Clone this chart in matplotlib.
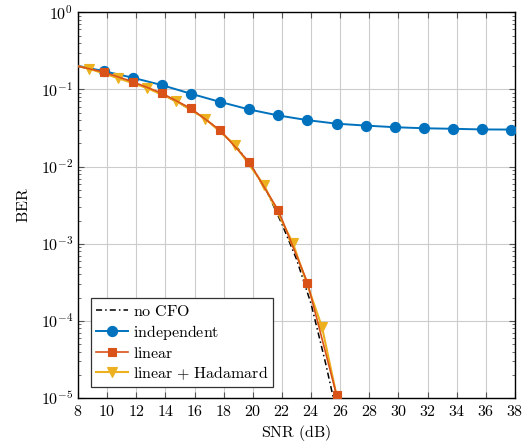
import math
import matplotlib
matplotlib.use("Agg")
import matplotlib.pyplot as plt
from matplotlib.ticker import FixedLocator, FuncFormatter, LogLocator, NullFormatter

plt.rcParams['mathtext.fontset'] = 'cm'
plt.rcParams['font.family'] = 'serif'

# ---------------- data ----------------
snr_nocfo = [8, 9, 10, 11, 12, 13, 14, 15, 16, 17, 18, 19, 20, 21, 22, 23, 24, 25, 26]
ber_nocfo = [0.2, 0.182, 0.162, 0.14, 0.119, 0.1, 0.082, 0.066, 0.051, 0.038, 0.026,
             0.017, 0.0095, 0.0046, 0.0018, 6.3e-4, 1.66e-4, 2.8e-5, 4e-6]

snr_indep = [7.75, 9.75, 11.75, 13.75, 15.75, 17.75, 19.75, 21.75, 23.75, 25.75,
             27.75, 29.75, 31.75, 33.75, 35.75, 37.75]
ber_indep = [0.207, 0.173, 0.142, 0.114, 0.088, 0.069, 0.055, 0.046, 0.040, 0.036,
             0.034, 0.0324, 0.0314, 0.0309, 0.0303, 0.0302]

snr_lin = [7.75, 9.75, 11.75, 13.75, 15.75, 17.75, 19.75, 21.75, 23.75, 25.75]
ber_lin = [0.205, 0.168, 0.126, 0.0895, 0.0567, 0.0296, 0.0114, 0.0027, 3.14e-4, 1.09e-5]

snr_had = [7.75, 8.75, 10.75, 12.75, 14.75, 16.75, 18.75, 20.75, 22.75, 24.75, 26.75]
ber_had = [0.205, 0.186, 0.140, 0.104, 0.0705, 0.0416, 0.0193, 0.0058, 1.02e-3, 8.3e-5, 1.4e-6]

labels = [r'$\mathrm{no\ CFO}$', r'$\mathrm{independent}$', r'$\mathrm{linear}$',
          r'$\mathrm{linear\ {+}\ Hadamard}$']
xticks = list(range(8, 39, 2))

c_blue = '#0072BD'
c_orange = '#D95319'
c_yellow = '#EDB120'

# ---------------- figure ----------------
fig = plt.figure(figsize=(5.25, 4.43), dpi=100)
ax = fig.add_axes([0.1486, 0.1016, 0.8324, 0.8706])

ax.plot(snr_nocfo, ber_nocfo, color='black', lw=1.1, linestyle=(0, (4, 2, 1, 2)),
        label=labels[0], zorder=3)
ax.plot(snr_indep, ber_indep, color=c_blue, lw=1.4, marker='o', ms=7.3, mew=0.8,
        markevery=list(range(1, len(snr_indep))), label=labels[1], zorder=4)
ax.plot(snr_had, ber_had, color=c_yellow, lw=1.5, marker='v', ms=7.5, mew=0.8,
        markevery=list(range(1, len(snr_had) - 1)), label=labels[3], zorder=4)
ax.plot(snr_lin, ber_lin, color=c_orange, lw=1.2, marker='s', ms=6.2, mew=0.8,
        markevery=list(range(1, len(snr_lin))), label=labels[2], zorder=5)

ax.set_yscale('log')
ax.set_xlim(8, 38)
ax.set_ylim(1e-5, 1)

ax.xaxis.set_major_locator(FixedLocator(xticks))
ax.xaxis.set_major_formatter(FuncFormatter(lambda v, p: r'$%d$' % int(round(v))))
ax.yaxis.set_major_locator(LogLocator(base=10, numticks=10))
ax.yaxis.set_major_formatter(FuncFormatter(lambda v, p: r'$10^{%d}$' % int(round(math.log10(v)))))
ax.yaxis.set_minor_locator(LogLocator(base=10, subs=range(2, 10), numticks=20))
ax.yaxis.set_minor_formatter(NullFormatter())

ax.tick_params(which='both', direction='in', top=True, right=True, labelsize=11.5, color='#555555')
ax.tick_params(which='major', length=4, width=0.8)
ax.tick_params(which='minor', length=2.5, width=0.6)
ax.grid(True, which='major', color='#cccccc', lw=0.8)
ax.set_axisbelow(True)
for s in ax.spines.values():
    s.set_linewidth(1.0)
    s.set_color('black')

ax.set_xlabel(r'$\mathrm{SNR\ (dB)}$', fontsize=11.5, labelpad=2)
ax.set_ylabel(r'$\mathrm{BER}$', fontsize=11.5, labelpad=6)

h, l = ax.get_legend_handles_labels()
hd = dict(zip(l, h))
leg = ax.legend([hd[x] for x in labels], labels, loc='lower left',
                bbox_to_anchor=(0.03, 0.029), borderaxespad=0, fontsize=11.5,
                fancybox=False, edgecolor='#333333', framealpha=1,
                handlelength=2.0, handletextpad=0.3, labelspacing=0.18,
                borderpad=0.3)
leg.get_frame().set_linewidth(0.9)

fig.savefig('out.png', dpi=100)
